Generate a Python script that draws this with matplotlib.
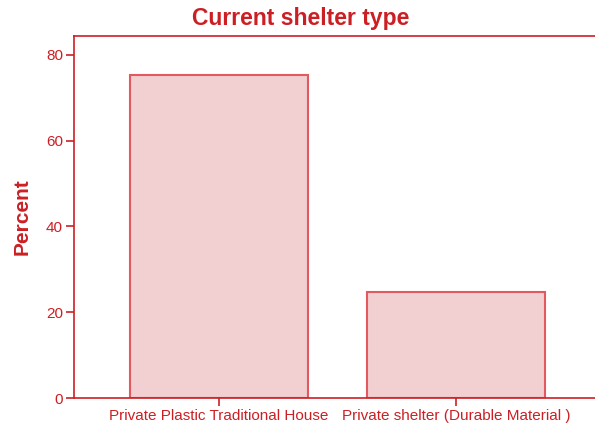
import matplotlib
matplotlib.use("Agg")
import matplotlib.pyplot as plt

categories = ["Private Plastic Traditional House", "Private shelter (Durable Material )"]
percents = [75.3, 24.7]
yticks = [0, 20, 40, 60, 80]

red = "#cc1f24"
fill = "#f2cfd0"
edge = "#e05a5f"

plt.rcParams['font.family'] = ['Liberation Sans', 'DejaVu Sans']

fig = plt.figure(figsize=(5.95, 4.29), dpi=100)
W, H = 595, 429
left, right, top, bottom = 74, 601, 36, 398
ax = fig.add_axes([left / W, 1 - bottom / H, (right - left) / W, (bottom - top) / H])

x = list(range(len(categories)))
ax.bar(x, percents, width=0.75, color=fill, edgecolor=edge, linewidth=1.5)

ax.set_xlim(-0.61, 1.61)
ax.set_ylim(0, 84.4)
ax.set_xticks(x)
ax.set_xticklabels(categories, fontsize=11, color=red)
ax.set_yticks(yticks)
ax.set_yticklabels([str(v) for v in yticks], fontsize=11, color=red)
ax.tick_params(axis='both', colors=red, length=6, width=1.2, direction='out', pad=2)

for s in ['left', 'top', 'bottom']:
    ax.spines[s].set_color(red)
    ax.spines[s].set_linewidth(1.2)
ax.spines['right'].set_visible(False)

ax.set_ylabel("Percent", fontsize=15, fontweight='bold', color=red, labelpad=10)
fig.text(301 / W, 1 - 18 / H, "Current shelter type", fontsize=16.5, fontweight='bold',
         color=red, ha='center', va='center')

fig.savefig("out.png", dpi=100)
